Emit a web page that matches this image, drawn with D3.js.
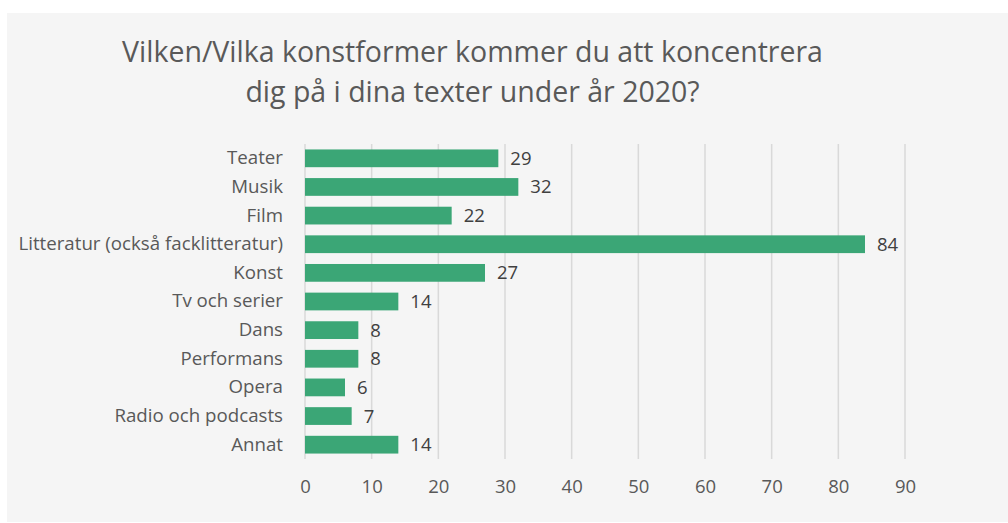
<!DOCTYPE html>
<html><head><meta charset="utf-8">
<script src="https://cdn.jsdelivr.net/npm/d3@7"></script>
<style>body{margin:0;background:#fff;} text{font-family:"Open Sans",sans-serif;}</style>
</head><body>
<svg id="c" width="1008" height="523"></svg>
<script>
const titleLines = ["Vilken/Vilka konstformer kommer du att koncentrera", "dig på i dina texter under år 2020?"];
const categories = ["Teater","Musik","Film","Litteratur (också facklitteratur)","Konst","Tv och serier","Dans","Performans","Opera","Radio och podcasts","Annat"];
const values = [29,32,22,84,27,14,8,8,6,7,14];
const xTicks = [0,10,20,30,40,50,60,70,80,90];

const svg = d3.select("#c");
svg.append("rect").attr("x",7).attr("y",13).attr("width",1001).attr("height",509).attr("fill","#f5f5f5");

const x = d3.scaleLinear().domain([0,90]).range([305,905]);
const y = d3.scaleBand().domain(categories).range([144,459]).paddingInner(0.38).paddingOuter(0.19);

svg.append("g").selectAll("text").data(titleLines).join("text")
  .attr("x",472.5).attr("y",(d,i)=>62+i*40).attr("text-anchor","middle")
  .attr("font-size",28.5).attr("fill","#595959").text(d=>d);

svg.append("g").selectAll("line").data(xTicks).join("line")
  .attr("x1",d=>x(d)).attr("x2",d=>x(d)).attr("y1",144).attr("y2",459)
  .attr("stroke","#d9d9d9").attr("stroke-width",1.5);

const xAxis = svg.append("g").attr("transform","translate(0,459)")
  .call(d3.axisBottom(x).tickValues(xTicks).tickSize(0).tickPadding(21));
xAxis.select(".domain").remove();
xAxis.selectAll("text").attr("font-size",18.5).attr("fill","#595959").attr("font-family","Open Sans");

const yAxis = svg.append("g").attr("transform","translate(305,0)")
  .call(d3.axisLeft(y).tickSize(0).tickPadding(22));
yAxis.select(".domain").remove();
yAxis.selectAll("text").attr("font-size",18.7).attr("fill","#595959").attr("font-family","Open Sans");

svg.append("g").selectAll("rect").data(values).join("rect")
  .attr("x",x(0)).attr("y",(d,i)=>y(categories[i])).attr("width",d=>x(d)-x(0)).attr("height",y.bandwidth())
  .attr("fill","#3ba676");

svg.append("g").selectAll("text").data(values).join("text")
  .attr("x",d=>x(d)+12).attr("y",(d,i)=>y(categories[i])+y.bandwidth()/2).attr("dy","0.35em")
  .attr("font-size",18.5).attr("fill","#404040").text(d=>d);
</script>
</body></html>
